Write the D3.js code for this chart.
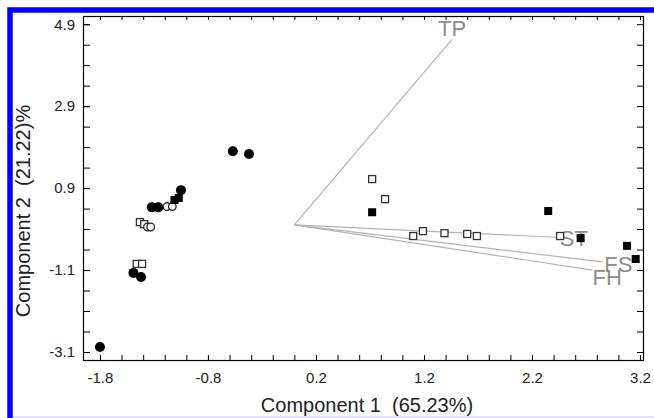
<!DOCTYPE html>
<html>
<head>
<meta charset="utf-8">
<script src="https://cdn.jsdelivr.net/npm/d3@7"></script>
<style>
    body { margin: 0; background: #fff; }
    svg { display: block; font-family: "Liberation Sans", Arial, sans-serif; }
    .axis path { display: none; }
    .axis line { stroke: #000; }
    .title { white-space: pre; }
</style>
</head>
<body>
<div id="pca-chart"></div>
<script>
// scores, one array per marker type, [component 1, component 2]
var filledCircles = [
    [-1.80, -2.98], [-1.49, -1.17], [-1.42, -1.27], [-1.32, 0.43], [-1.26, 0.43],
    [-1.05, 0.85], [-0.57, 1.80], [-0.42, 1.73]
];
var openCircles = [
    [-1.36, -0.05], [-1.33, -0.05], [-1.18, 0.45], [-1.13, 0.45]
];
var openSquares = [
    [-1.46, -0.95], [-1.41, -0.95], [-1.43, 0.07], [-1.39, 0.02],
    [0.72, 1.12], [0.84, 0.63], [1.10, -0.27], [1.19, -0.15], [1.39, -0.20],
    [1.60, -0.22], [1.69, -0.27], [2.46, -0.27]
];
var filledSquares = [
    [-1.11, 0.61], [-1.07, 0.66], [0.72, 0.31], [2.35, 0.34],
    [2.65, -0.32], [3.08, -0.51], [3.16, -0.83]
];

// loading vectors
var loadingNames = ['TP', 'ST', 'FS', 'FH'];
var loadingX = [1.46, 2.42, 2.85, 2.76];
var loadingY = [4.53, -0.30, -0.90, -1.10];

var xTickValues = [-1.8, -0.8, 0.2, 1.2, 2.2, 3.2];
var xTickLabels = ['-1.8', '-0.8', '0.2', '1.2', '2.2', '3.2'];
var yTickValues = [-3.1, -1.1, 0.9, 2.9, 4.9];
var yTickLabels = ['-3.1', '-1.1', '0.9', '2.9', '4.9'];

var width = 654,
    height = 418;

var margin = { left: 83, right: 10, top: 16, bottom: 57 };

// label placement next to the vector tips
var labelOffset = {
    TP: { dx: 0, dy: -3, anchor: 'middle' },
    ST: { dx: 4, dy: 9, anchor: 'start' },
    FS: { dx: 2, dy: 10, anchor: 'start' },
    FH: { dx: 0, dy: 15, anchor: 'start' }
};

var svg = d3.select('#pca-chart').append('svg')
    .attr('width', width)
    .attr('height', height);

// blue frame of the figure
svg.append('rect')
    .attr('x', 10).attr('y', 10)
    .attr('width', 800).attr('height', 600)
    .attr('fill', 'none')
    .attr('stroke', '#0000ff')
    .attr('stroke-width', 5.5);
svg.append('rect')
    .attr('x', 13).attr('y', 416)
    .attr('width', width).attr('height', 2)
    .attr('fill', '#e4e4f8');

var x = d3.scaleLinear()
    .domain([-1.957, 3.237])
    .range([margin.left, width - margin.right]);

var y = d3.scaleLinear()
    .domain([-3.32, 5.1])
    .range([height - margin.bottom, margin.top]);

var xMinor = d3.range(0, 26).map(function (i) { return +(-1.8 + i * 0.2).toFixed(1); });
var yMinor = d3.range(0, 17).map(function (i) { return +(-3.1 + i * 0.5).toFixed(1); });

var plotBottom = height - margin.bottom,
    plotRight = width - margin.right;

// ticks, all pointing inward
svg.append('g').attr('class', 'axis')
    .attr('transform', 'translate(0,' + plotBottom + ')')
    .call(d3.axisBottom(x).tickValues(xMinor).tickSize(-6).tickFormat(''));

svg.append('g').attr('class', 'axis')
    .attr('transform', 'translate(0,' + plotBottom + ')')
    .call(d3.axisBottom(x).tickValues(xTickValues).tickSize(-6).tickPadding(11)
        .tickFormat(function (d, i) { return xTickLabels[i]; }))
    .selectAll('text')
    .style('font-size', '15px')
    .style('fill', '#222');

svg.append('g').attr('class', 'axis')
    .attr('transform', 'translate(0,' + margin.top + ')')
    .call(d3.axisTop(x).tickValues(xMinor).tickSize(-4).tickFormat(''));

svg.append('g').attr('class', 'axis')
    .attr('transform', 'translate(' + margin.left + ',0)')
    .call(d3.axisLeft(y).tickValues(yMinor).tickSize(-7).tickFormat(''));

svg.append('g').attr('class', 'axis')
    .attr('transform', 'translate(' + margin.left + ',0)')
    .call(d3.axisLeft(y).tickValues(yTickValues).tickSize(-7).tickPadding(8)
        .tickFormat(function (d, i) { return yTickLabels[i]; }))
    .selectAll('text')
    .style('font-size', '15px')
    .style('fill', '#222');

svg.append('g').attr('class', 'axis')
    .attr('transform', 'translate(' + plotRight + ',0)')
    .call(d3.axisRight(y).tickValues(yMinor).tickSize(-7).tickFormat(''));

// plot frame
svg.append('rect')
    .attr('x', margin.left + 0.5)
    .attr('y', margin.top + 0.5)
    .attr('width', plotRight - margin.left - 1)
    .attr('height', plotBottom - margin.top - 1)
    .attr('fill', 'none')
    .attr('stroke', '#000')
    .attr('stroke-width', 1.2);

// axis titles
svg.append('text').attr('class', 'title')
    .attr('x', 367)
    .attr('y', 412)
    .attr('text-anchor', 'middle')
    .style('font-size', '20px')
    .style('fill', '#222')
    .text('Component 1  (65.23%)');

svg.append('text').attr('class', 'title')
    .attr('transform', 'translate(30,211) rotate(-90)')
    .attr('text-anchor', 'middle')
    .style('font-size', '20px')
    .style('fill', '#222')
    .text('Component 2  (21.22)%');

// loading vectors
var loadings = loadingNames.map(function (name, i) {
    return { name: name, x: loadingX[i], y: loadingY[i] };
});

svg.selectAll('.loading')
    .data(loadings)
    .enter()
    .append('line').attr('class', 'loading')
    .attr('x1', x(0)).attr('y1', y(0))
    .attr('x2', function (d) { return x(d.x); })
    .attr('y2', function (d) { return y(d.y); })
    .attr('stroke', '#b4b4b4')
    .attr('stroke-width', 1.2);

svg.selectAll('.loading-label')
    .data(loadings)
    .enter()
    .append('text').attr('class', 'loading-label')
    .attr('x', function (d) { return x(d.x) + labelOffset[d.name].dx; })
    .attr('y', function (d) { return y(d.y) + labelOffset[d.name].dy; })
    .attr('text-anchor', function (d) { return labelOffset[d.name].anchor; })
    .style('font-size', '22px')
    .style('fill', '#8c8c8c')
    .text(function (d) { return d.name; });

// score points
svg.selectAll('.open-square')
    .data(openSquares)
    .enter()
    .append('rect').attr('class', 'open-square')
    .attr('x', function (d) { return x(d[0]) - 3.5; })
    .attr('y', function (d) { return y(d[1]) - 3.5; })
    .attr('width', 7).attr('height', 7)
    .attr('fill', '#fff')
    .attr('stroke', '#333')
    .attr('stroke-width', 1.3);

svg.selectAll('.open-circle')
    .data(openCircles)
    .enter()
    .append('circle').attr('class', 'open-circle')
    .attr('cx', function (d) { return x(d[0]); })
    .attr('cy', function (d) { return y(d[1]); })
    .attr('r', 3.8)
    .attr('fill', '#fff')
    .attr('stroke', '#222')
    .attr('stroke-width', 1.3);

svg.selectAll('.filled-square')
    .data(filledSquares)
    .enter()
    .append('rect').attr('class', 'filled-square')
    .attr('x', function (d) { return x(d[0]) - 4; })
    .attr('y', function (d) { return y(d[1]) - 4; })
    .attr('width', 8).attr('height', 8)
    .attr('fill', '#000');

svg.selectAll('.filled-circle')
    .data(filledCircles)
    .enter()
    .append('circle').attr('class', 'filled-circle')
    .attr('cx', function (d) { return x(d[0]); })
    .attr('cy', function (d) { return y(d[1]); })
    .attr('r', 5)
    .attr('fill', '#000');
</script>
</body>
</html>
